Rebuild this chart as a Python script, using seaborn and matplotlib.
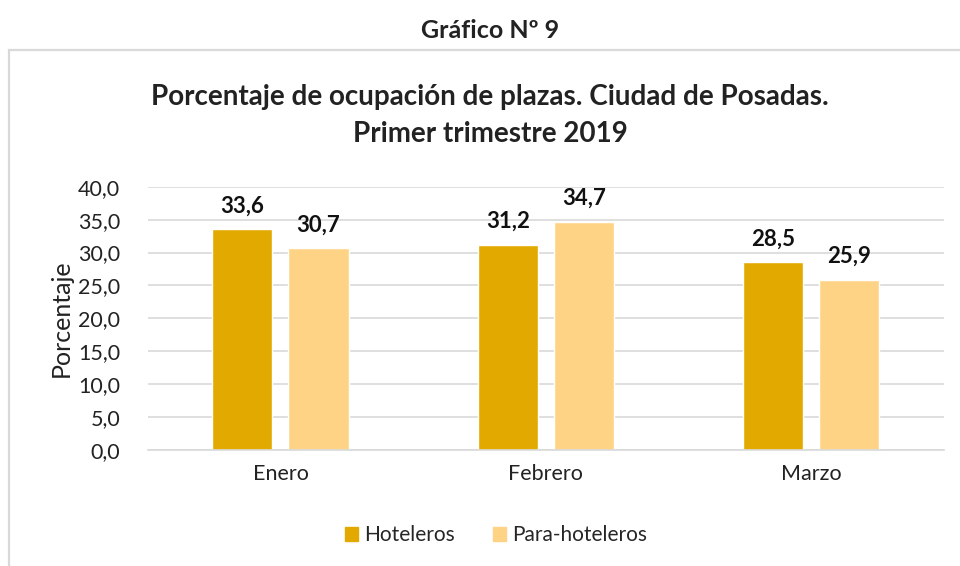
import matplotlib.pyplot as plt
import matplotlib.patches as mpatches
import pandas as pd
import seaborn as sns

meses = ["Enero", "Febrero", "Marzo"]
hoteleros = [33.6, 31.2, 28.5]
para_hoteleros = [30.7, 34.7, 25.9]
series = ["Hoteleros", "Para-hoteleros"]
colores = ["#E2AA00", "#FFD386"]
y_ticks = [0, 5, 10, 15, 20, 25, 30, 35, 40]

df = pd.DataFrame({
    "mes": meses * 2,
    "valor": hoteleros + para_hoteleros,
    "tipo": [series[0]] * 3 + [series[1]] * 3,
})

sns.set_theme(style="white")
plt.rcParams["font.family"] = ["Lato", "DejaVu Sans"]

fig = plt.figure(figsize=(9.6, 5.66), dpi=100)
ax = fig.add_axes([0.154, 0.205, 0.829, 0.465])

sns.barplot(data=df, x="mes", y="valor", hue="tipo", palette=colores,
            width=0.574, gap=0.21, ax=ax, legend=False, saturation=1)

ax.set_ylim(0, 40)
ax.set_xlim(-0.5, 2.5)
ax.set_yticks(y_ticks)
ax.set_yticklabels([f"{v:.1f}".replace(".", ",") for v in y_ticks], fontsize=15.5, color="#222222")
ax.tick_params(axis="x", labelsize=15.5, colors="#222222", pad=10, length=0)
ax.tick_params(axis="y", length=0, pad=20)
ax.yaxis.grid(True, color="#d9d9d9", linewidth=1.2)
ax.set_axisbelow(True)
for s in ["top", "right", "left"]:
    ax.spines[s].set_visible(False)
ax.spines["bottom"].set_color("#d9d9d9")
ax.spines["bottom"].set_linewidth(1.2)
ax.set_xlabel("")
ax.set_ylabel("Porcentaje", fontsize=18, color="#222222", labelpad=4)

for cont in ax.containers:
    for bar in cont:
        h = bar.get_height()
        ax.annotate(f"{h:.1f}".replace(".", ","), (bar.get_x() + bar.get_width() / 2, h),
                    xytext=(0, 9), textcoords="offset points", ha="center", va="bottom",
                    fontsize=16, fontweight="bold", color="#111111")

# marco del gráfico
fig.patches.append(mpatches.Rectangle((9 / 960, -0.1), 1.1, 1 - 50 / 566 + 0.1,
                                      transform=fig.transFigure, fill=False,
                                      edgecolor="#d9d9d9", linewidth=1.6))

cx = 490 / 960
fig.text(cx, 1 - 31 / 566, "Gráfico Nº 9", ha="center", va="center",
         fontsize=18, fontweight="bold", color="#222222")
fig.text(cx, 1 - 97 / 566, "Porcentaje de ocupación de plazas. Ciudad de Posadas.",
         ha="center", va="center", fontsize=20, fontweight="bold", color="#222222")
fig.text(cx, 1 - 134 / 566, "Primer trimestre 2019",
         ha="center", va="center", fontsize=20, fontweight="bold", color="#222222")

handles = [mpatches.Patch(color=c, label=l) for c, l in zip(colores, series)]
fig.legend(handles=handles, loc="center", bbox_to_anchor=(496 / 960, 1 - 535 / 566), ncol=2,
           frameon=False, fontsize=15, handlelength=0.65, handleheight=0.65,
           handletextpad=0.3, columnspacing=1.8)

fig.savefig("out.png", dpi=100)
